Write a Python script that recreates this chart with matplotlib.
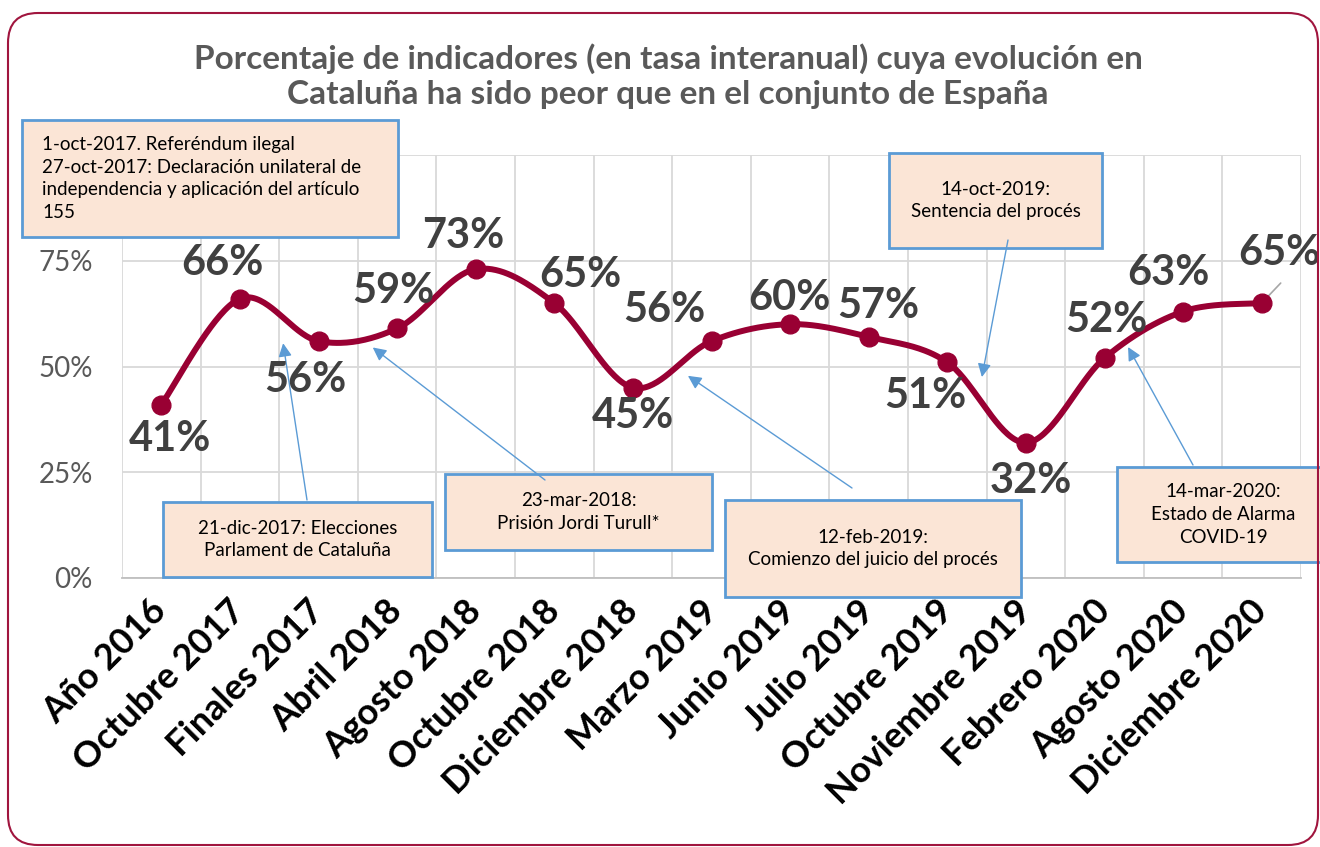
import numpy as np
import matplotlib.pyplot as plt
from matplotlib.patches import Rectangle, FancyBboxPatch

# datos del gráfico
categorias = ["Año 2016", "Octubre 2017", "Finales 2017", "Abril 2018", "Agosto 2018",
              "Octubre 2018", "Diciembre 2018", "Marzo 2019", "Junio 2019", "Julio 2019",
              "Octubre 2019", "Noviembre 2019", "Febrero 2020", "Agosto 2020", "Diciembre 2020"]
porcentaje = [0.41, 0.66, 0.56, 0.59, 0.73, 0.65, 0.45, 0.56, 0.60, 0.57, 0.51, 0.32, 0.52, 0.63, 0.65]
ticks_y = [0, 0.25, 0.50, 0.75, 1.0]
etiquetas_y = ["0%", "25%", "50%", "75%", ""]  # el 100% queda tapado por el recuadro

titulo = ("Porcentaje de indicadores (en tasa interanual) cuya evolución en\n"
          "Cataluña ha sido peor que en el conjunto de España")

# desplazamiento (px) de cada etiqueta respecto a su punto
desplazamientos = [(9, -34), (-17, 36), (-13, -39), (-4, 37), (-12, 33), (26, 28), (0, -28),
                   (-47, 31), (-1, 26), (10, 31), (-22, -34), (5, -38), (2, 38), (-15, 39), (18, 50)]

W, H = 1320, 847
GRANATE = "#990033"
AZUL = "#5B9BD5"
SALMON = "#FBE5D6"
FUENTE = "Lato"

plt.rcParams['font.family'] = [FUENTE, 'DejaVu Sans']


def suavizar(x, y, n=40):
    # curva suavizada tipo Excel (Bezier con puntos de control Catmull-Rom)
    pts = np.column_stack([x, y]).astype(float)
    ext = np.vstack([pts[0], pts, pts[-1]])
    t = np.linspace(0, 1, n)[:, None]
    trozos = []
    for i in range(len(pts) - 1):
        p0, p1, p2, p3 = ext[i], ext[i + 1], ext[i + 2], ext[i + 3]
        c1 = p1 + (p2 - p0) / 6
        c2 = p2 - (p3 - p1) / 6
        b = ((1 - t) ** 3) * p1 + 3 * ((1 - t) ** 2) * t * c1 + 3 * (1 - t) * t ** 2 * c2 + t ** 3 * p2
        trozos.append(b if i == 0 else b[1:])
    curva = np.vstack(trozos)
    return curva[:, 0], curva[:, 1]


fig = plt.figure(figsize=(W / 100, H / 100), dpi=100)
ax = fig.add_axes([122 / W, 1 - 578 / H, (1301 - 122) / W, (578 - 155) / H])

x = np.arange(len(categorias))
xs, ys = suavizar(x, porcentaje)
ax.plot(xs, ys, color=GRANATE, lw=4.3, solid_capstyle='round', zorder=3)
ax.plot(x, porcentaje, 'o', color=GRANATE, ms=13.5, zorder=4)

for i, (v, (dx, dy)) in enumerate(zip(porcentaje, desplazamientos)):
    ax.annotate(f"{round(v * 100)}%", (i, v), xytext=(dx, dy), textcoords='offset pixels',
                ha='center', va='center', fontsize=30, fontweight='bold', color='#404040',
                zorder=8, annotation_clip=False)

# línea guía de la última etiqueta
ax.annotate('', xy=(x[-1], porcentaje[-1]), xytext=(19, 20), textcoords='offset pixels',
            arrowprops=dict(arrowstyle='-', color='#A6A6A6', lw=1.2, shrinkA=0, shrinkB=4))

ax.set_xlim(-0.5, len(categorias) - 0.5)
ax.set_ylim(0, 1.0)
ax.set_yticks(ticks_y)
ax.set_yticklabels(etiquetas_y, fontsize=20, color='#595959')
ax.set_xticks(x)
ax.set_xticklabels(categorias, rotation=45, ha='right', va='center', rotation_mode='anchor',
                   fontsize=26, fontweight='bold', color='black')
ax.set_xticks(np.arange(-0.5, len(categorias)), minor=True)
ax.tick_params(axis='both', which='both', length=0)
ax.tick_params(axis='y', pad=21)
ax.tick_params(axis='x', pad=20)
ax.grid(axis='y', which='major', color='#D9D9D9', lw=1.3)
ax.grid(axis='x', which='minor', color='#D9D9D9', lw=1.3)
ax.set_axisbelow(True)
for s in ['left', 'right', 'top']:
    ax.spines[s].set_visible(False)
ax.spines['bottom'].set_color('#BFBFBF')
ax.spines['bottom'].set_linewidth(1.3)


def caja(x0, y0, x1, y1, texto, izquierda=False):
    r = Rectangle((x0 / W, 1 - y1 / H), (x1 - x0) / W, (y1 - y0) / H, transform=fig.transFigure,
                  facecolor=SALMON, edgecolor=AZUL, lw=2, zorder=5, clip_on=False)
    ax.add_patch(r)
    tx = x0 + 20 if izquierda else (x0 + x1) / 2
    ax.text(tx / W, 1 - (y0 + y1) / 2 / H, texto, transform=fig.transFigure,
            ha='left' if izquierda else 'center', va='center', fontsize=13.5, linespacing=1.42,
            color='black', zorder=6, clip_on=False)


def flecha(xy, x0, y0):
    ax.annotate('', xy=xy, xycoords='data', xytext=(x0 / W, 1 - y0 / H), textcoords='figure fraction',
                arrowprops=dict(arrowstyle='-|>', color=AZUL, lw=1, mutation_scale=20,
                                shrinkA=0, shrinkB=0),
                zorder=7, annotation_clip=False)


caja(22, 120, 398, 237, "1-oct-2017. Referéndum ilegal\n27-oct-2017: Declaración unilateral de\n"
     "independencia y aplicación del artículo\n155", izquierda=True)
caja(163, 502, 432, 577, "21-dic-2017: Elecciones\nParlament de Cataluña")
caja(445, 474, 712, 550, "23-mar-2018:\nPrisión Jordi Turull*")
caja(725, 500, 1021, 597, "12-feb-2019:\nComienzo del juicio del procés")
caja(1117, 467, 1330, 562, "14-mar-2020:\nEstado de Alarma\nCOVID-19")
caja(889, 153, 1102, 248, "14-oct-2019:\nSentencia del procés")

flecha((1.55, 0.555), 307, 500)
flecha((2.69, 0.545), 545, 480)
flecha((6.70, 0.478), 852, 488)
flecha((10.44, 0.475), 1008, 240)
flecha((12.30, 0.546), 1193, 465)

fig.text(668 / W, 1 - 76 / H, titulo, ha='center', va='center', fontsize=24, fontweight='bold',
         color='#595959', linespacing=1.25)

# marco redondeado
marco = FancyBboxPatch((8, 2), 1310, 832, boxstyle='round,pad=0,rounding_size=30',
                       transform=None, facecolor='none', edgecolor='#A0153E', lw=1.5)
fig.patches.append(marco)

fig.savefig('out.png', dpi=100)
